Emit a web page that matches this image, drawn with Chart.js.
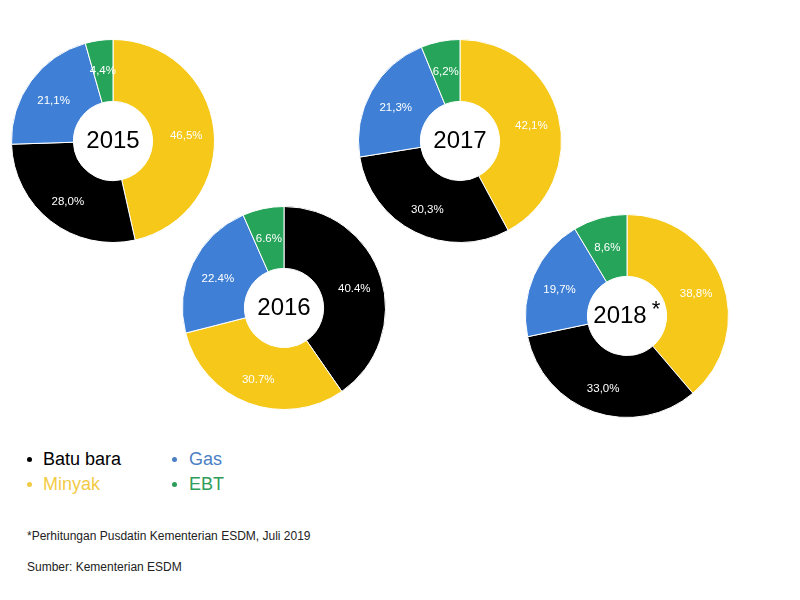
<!DOCTYPE html>
<html lang="id">
<head>
  <meta charset="UTF-8">
  <title>Bauran energi primer</title>
  <script src="https://cdn.jsdelivr.net/npm/chart.js"></script>
  <style>
    body { margin: 0; background: #fff; font-family: "Liberation Sans", Arial, sans-serif; }
    #page { position: relative; width: 800px; height: 600px; }
    canvas { position: absolute; }
    .item { position: absolute; font-size: 18px; line-height: 20px; }
    .dot { position: absolute; width: 5px; height: 5px; border-radius: 50%; }
    .note { position: absolute; left: 27px; font-size: 12px; color: #222; }
  </style>
</head>
<body>
<div id="page">
  <canvas id="c2015" width="204" height="204" style="left:11px;top:39px"></canvas>
  <canvas id="c2016" width="204" height="204" style="left:182px;top:206px"></canvas>
  <canvas id="c2017" width="204" height="204" style="left:358px;top:39px"></canvas>
  <canvas id="c2018" width="204" height="204" style="left:525px;top:214px"></canvas>

  <div class="dot" style="left:27px;top:457px;background:#000"></div>
  <div class="item" style="left:43px;top:449px;color:#000">Batu bara</div>
  <div class="dot" style="left:27px;top:482px;background:#f2cb45"></div>
  <div class="item" style="left:43px;top:474px;color:#f2cb45">Minyak</div>
  <div class="dot" style="left:172px;top:457px;background:#4a7fc4"></div>
  <div class="item" style="left:189px;top:449px;color:#4a7fc4">Gas</div>
  <div class="dot" style="left:172px;top:482px;background:#2e9d5a"></div>
  <div class="item" style="left:189px;top:474px;color:#2e9d5a">EBT</div>

  <div class="note" style="top:529px">*Perhitungan Pusdatin Kementerian ESDM, Juli 2019</div>
  <div class="note" style="top:560px">Sumber: Kementerian ESDM</div>
</div>
<script>
  const years = ['2015', '2016', '2017', '2018'];
  const labels2015 = ['Minyak', 'Batu bara', 'Gas', 'EBT'];
  const values2015 = [46.5, 28.0, 21.1, 4.4];
  const labels2016 = ['Batu bara', 'Minyak', 'Gas', 'EBT'];
  const values2016 = [40.4, 30.7, 22.4, 6.6];
  const labels2017 = ['Minyak', 'Batu bara', 'Gas', 'EBT'];
  const values2017 = [42.1, 30.3, 21.3, 6.2];
  const labels2018 = ['Minyak', 'Batu bara', 'Gas', 'EBT'];
  const values2018 = [38.8, 33.0, 19.7, 8.6];
  const decimalMarks = [',', '.', ',', ','];

  const colors = {
    'Batu bara': '#000000',
    'Minyak': '#f5c81a',
    'Gas': '#3f80d6',
    'EBT': '#26a55a'
  };

  // white percentage labels inside each slice
  const sliceLabels = {
    id: 'sliceLabels',
    afterDatasetsDraw(chart) {
      const ctx = chart.ctx;
      const sep = chart.options.plugins.sliceLabels.sep;
      const vals = chart.data.datasets[0].data;
      ctx.save();
      ctx.font = '11.5px "Liberation Sans", Arial, sans-serif';
      ctx.fillStyle = '#fff';
      ctx.textAlign = 'center';
      ctx.textBaseline = 'middle';
      chart.getDatasetMeta(0).data.forEach((arc, i) => {
        const p = arc.getProps(['x', 'y', 'startAngle', 'endAngle', 'innerRadius', 'outerRadius']);
        const mid = (p.startAngle + p.endAngle) / 2;
        const r = p.innerRadius + (p.outerRadius - p.innerRadius) * 0.55;
        const txt = vals[i].toFixed(1).replace('.', sep) + '%';
        ctx.fillText(txt, p.x + Math.cos(mid) * r, p.y + Math.sin(mid) * r + 3);
      });
      ctx.restore();
    }
  };

  // year in the middle of the hole
  const centerText = {
    id: 'centerText',
    afterDraw(chart) {
      const ctx = chart.ctx;
      const o = chart.options.plugins.centerText;
      const a = chart.chartArea;
      const cx = (a.left + a.right) / 2;
      const cy = (a.top + a.bottom) / 2;
      ctx.save();
      ctx.fillStyle = '#000';
      ctx.font = '24px "Liberation Sans", Arial, sans-serif';
      ctx.textBaseline = 'alphabetic';
      if (o.star) {
        ctx.textAlign = 'center';
        const w = ctx.measureText(o.text).width;
        const x = cx - 7;
        ctx.fillText(o.text, x, cy + 7);
        ctx.textAlign = 'left';
        ctx.font = '22px "Liberation Sans", Arial, sans-serif';
        ctx.fillText('*', x + w / 2 + 5, cy);
      } else {
        ctx.textAlign = 'center';
        ctx.fillText(o.text, cx, cy + 7);
      }
      ctx.restore();
    }
  };

  function makeDonut(id, year, labels, values, sep, star) {
    const ctx = document.getElementById(id).getContext('2d');
    return new Chart(ctx, {
      type: 'doughnut',
      data: {
        labels: labels,
        datasets: [{
          data: values,
          backgroundColor: labels.map(l => colors[l]),
          borderColor: '#ffffff',
          borderWidth: 1
        }]
      },
      options: {
        responsive: false,
        animation: false,
        cutout: '39%',
        layout: { padding: 0 },
        plugins: {
          legend: { display: false },
          tooltip: { enabled: false },
          sliceLabels: { sep: sep },
          centerText: { text: year, star: star }
        }
      },
      plugins: [sliceLabels, centerText]
    });
  }

  makeDonut('c2015', years[0], labels2015, values2015, decimalMarks[0], false);
  makeDonut('c2016', years[1], labels2016, values2016, decimalMarks[1], false);
  makeDonut('c2017', years[2], labels2017, values2017, decimalMarks[2], false);
  makeDonut('c2018', years[3], labels2018, values2018, decimalMarks[3], true);
</script>
</body>
</html>
